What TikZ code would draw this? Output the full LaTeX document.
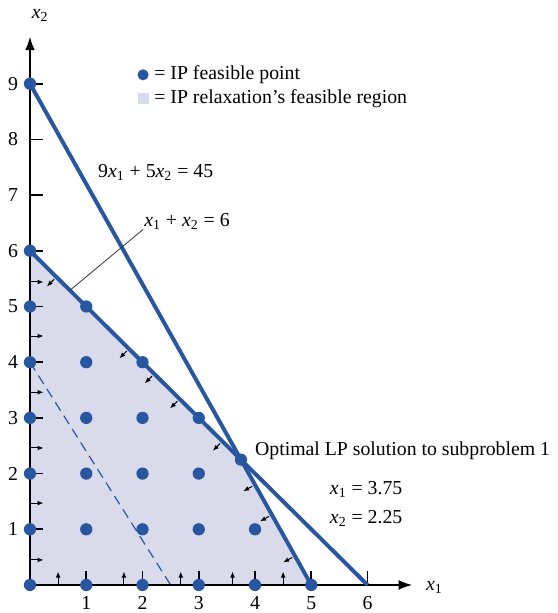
\documentclass[tikz,border=0pt]{standalone}
\usepackage{fontspec}
\setmainfont{Liberation Serif}
\usetikzlibrary{arrows.meta, calc, positioning}
\definecolor{lpblau}{RGB}{40,86,160}
\definecolor{region}{HTML}{D9DBEB}
\newcommand{\xs}[1]{\textit{x}\textsubscript{#1}}

\begin{document}
\begin{tikzpicture}[x=1cm, y=0.99cm,
        font=\fontsize{10}{12}\selectfont,
        ipdot/.style={circle, fill=lpblau, inner sep=0pt, minimum size=6.2pt},
        cons/.style={lpblau, line width=2pt},
        achse/.style={line width=1.1pt, -{Latex[length=7pt,width=5pt]}},
        halb/.style={-{Latex[length=3pt,width=2.4pt]}, line width=0.5pt},
        tick/.style={line width=0.9pt},
        lab/.style={inner sep=1pt},
        node distance=1pt
      ]
      \useasboundingbox (-0.533,-0.503) rectangle (9.378,10.503);

      % ── feasible region of the relaxation ──
      \fill[region] (0,0) -- (0,6) -- (3.75,2.25) -- (5,0) -- cycle;
      \draw[lpblau, line width=0.6pt, dash pattern=on 5pt off 3pt] (0,4) -- (2.5,0);

      % ── axes ──
      \coordinate (o) at (0,0);
      \coordinate (xend) at (6.8,0);
      \coordinate (yend) at (0,9.85);
      \draw[achse] (o) -- (xend);
      \draw[achse] (o) -- (yend);
      \node[lab] (xlab) at (7.19,-0.04) {\xs{1}};
      \node[lab] (ylab) at (0.18,10.23) {\xs{2}};

      \foreach \i in {1,...,6} {
        \draw[tick] (\i,0) -- (\i,0.25);
        \node[lab] (tx\i) at (\i,-0.33) {\i};
      }
      \foreach \j in {1,...,9} {
        \draw[tick] (0,\j) -- (0.23,\j);
        \node[lab] (ty\j) at (-0.3,\j) {\j};
      }

      % ── direction arrows ──
      \foreach \x in {0.5,1.67,2.68,3.6,4.5}
        \draw[halb] (\x,0.02) -- (\x,0.24);
      \foreach \y in {0.45,1.47,2.46,3.46,4.47,5.44}
        \draw[halb] (0.02,\y) -- (0.24,\y);
      \foreach \x in {0.47,1.76,2.21,2.66,3.42}
        \draw[halb] (\x,6-\x) ++(-0.04,-0.04) -- ++(-0.13,-0.13);
      \foreach \x in {4.0,4.3,4.71}
        \draw[halb] (\x,9-1.8*\x) ++(-0.05,-0.028) -- ++(-0.16,-0.089);

      % ── constraints ──
      \coordinate (a9) at (0,9);
      \coordinate (b5) at (5,0);
      \coordinate (a6) at (0,6);
      \coordinate (b6) at (6,0);
      \draw[cons] (a9) -- (b5);
      \draw[cons] (a6) -- (b6);

      % ── IP feasible points ──
      \foreach \a/\b in {0/0,0/1,0/2,0/3,0/4,0/5,0/6,0/9,
                         1/0,1/1,1/2,1/3,1/4,1/5,
                         2/0,2/1,2/2,2/3,2/4,
                         3/0,3/1,3/2,3/3,
                         4/0,4/1,5/0}
        \node[ipdot] (p\a\b) at (\a,\b) {};
      \node[ipdot] (opt) at (3.75,2.25) {};

      % ── labels ──
      \node[lab, anchor=west] (c1) at (1.17,7.41) {9\xs{1} + 5\xs{2} = 45};
      \node[lab, anchor=west] (c2) at (1.99,6.52) {\xs{1} + \xs{2} = 6};
      \coordinate (c2fuss) at (0.71,5.29);
      \draw[line width=0.4pt, black!80] (c2.south west) ++(0.02,0.05) -- (c2fuss);

      \node[lab, anchor=west] (optlab) at (3.96,2.41) {Optimal LP solution to subproblem 1};
      \node[lab, anchor=west] (optx1) at (5.29,1.71) {\xs{1} = 3.75};
      \node[lab, anchor=west] (optx2) at (5.29,1.20) {\xs{2} = 2.25};

      % ── legend ──
      \node[ipdot, minimum size=5.6pt] (legdot) at (2.01,9.16) {};
      \node[lab, right=1.5pt of legdot] (legdottext) {= IP feasible point};
      \node[fill=region, minimum size=5.6pt, inner sep=0pt] (legsq) at (2.01,8.73) {};
      \node[lab, right=1.5pt of legsq] (legsqtext) {= IP relaxation’s feasible region};
    \end{tikzpicture}
\end{document}
